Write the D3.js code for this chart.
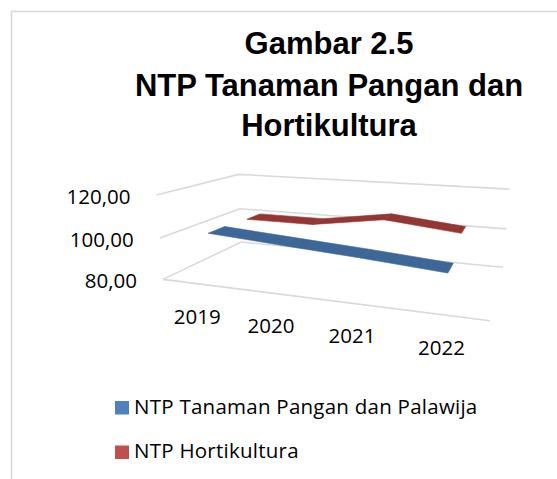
<!DOCTYPE html>
<html>
<head>
<meta charset="utf-8">
<script src="https://cdn.jsdelivr.net/npm/d3@7"></script>
<style>
  body { margin: 0; background: #fff; }
  svg { display: block; }
</style>
</head>
<body>
<div id="chart"></div>
<script>
// data
var years = ["2019", "2020", "2021", "2022"];
var seriesNames = ["NTP Tanaman Pangan dan Palawija", "NTP Hortikultura"];
var pangan = [101.3, 98.9, 96.6, 93.9];
var horti = [100.4, 100.5, 105.8, 102.1];
var yTicks = [80, 100, 120];

var width = 557, height = 479;

var svg = d3.select("#chart").append("svg")
    .attr("width", width)
    .attr("height", height);

// chart border (runs off the page right/bottom)
svg.append("rect")
    .attr("x", 11.5).attr("y", 11.5)
    .attr("width", 700).attr("height", 700)
    .attr("fill", "none")
    .attr("stroke", "#d9d9d9")
    .attr("stroke-width", 1.6);

// title
var titleLines = [
    { t: "Gambar 2.5", y: 54 },
    { t: "NTP Tanaman Pangan dan", y: 96 },
    { t: "Hortikultura", y: 136 }
];
svg.selectAll(".title").data(titleLines).join("text")
    .attr("class", "title")
    .attr("x", 329)
    .attr("y", function (d) { return d.y })
    .attr("text-anchor", "middle")
    .style("font-family", "'Liberation Sans', Arial, sans-serif")
    .style("font-weight", "bold")
    .style("font-size", "31px")
    .attr("fill", "#000")
    .text(function (d) { return d.t });

// scales in the unit box (x: categories, y: value, z: depth)
var x = d3.scalePoint().domain(years).range([0, 1]).padding(0.5);
var y = d3.scaleLinear().domain([80, 120]).range([0, 1]);
var z = d3.scaleBand().domain(seriesNames).range([0, 1])
    .paddingInner(0.6).paddingOuter(0.3);

// screen position of the box corners, used to fit the 3d view
var frame = [
    [0, 0, 0, 164, 279], [0, 0, 1, 240, 242.5], [1, 0, 1, 503.3, 267.3], [1, 0, 0, 490, 320.7],
    [0, 1, 0, 155, 195.5], [0, 1, 1, 240, 174.3], [1, 1, 1, 509.3, 189],
    [0, 0.5, 0, 160, 238], [0, 0.5, 1, 240, 208.3], [1, 0.5, 1, 506, 229]
];

// least squares fit of a 3x4 projection (p34 = 1)
function fitProjection(pts) {
    var A = [], b = [];
    pts.forEach(function (p) {
        var X = p[0], Y = p[1], Z = p[2], u = p[3], v = p[4];
        A.push([X, Y, Z, 1, 0, 0, 0, 0, -u * X, -u * Y, -u * Z]); b.push(u);
        A.push([0, 0, 0, 0, X, Y, Z, 1, -v * X, -v * Y, -v * Z]); b.push(v);
    });
    var n = 11, M = [];
    for (var i = 0; i < n; i++) {
        M.push([]);
        for (var j = 0; j <= n; j++) {
            var s = 0;
            for (var k = 0; k < A.length; k++) s += A[k][i] * (j < n ? A[k][j] : b[k]);
            M[i].push(s);
        }
    }
    for (var c = 0; c < n; c++) {
        var piv = c;
        for (var r = c + 1; r < n; r++) if (Math.abs(M[r][c]) > Math.abs(M[piv][c])) piv = r;
        var tmp = M[c]; M[c] = M[piv]; M[piv] = tmp;
        for (var r2 = 0; r2 < n; r2++) {
            if (r2 === c) continue;
            var f = M[r2][c] / M[c][c];
            for (var j2 = c; j2 <= n; j2++) M[r2][j2] -= f * M[c][j2];
        }
    }
    return M.map(function (row, i) { return row[n] / row[i] });
}
var P = fitProjection(frame);
function project(X, Y, Z) {
    var w = P[8] * X + P[9] * Y + P[10] * Z + 1;
    return [(P[0] * X + P[1] * Y + P[2] * Z + P[3]) / w,
            (P[4] * X + P[5] * Y + P[6] * Z + P[7]) / w];
}

// gridlines on left wall and back wall
var grid = svg.append("g");
yTicks.forEach(function (t) {
    var pts = [project(0, y(t), 0), project(0, y(t), 1), project(1, y(t), 1)];
    grid.append("path")
        .attr("d", d3.line()(pts))
        .attr("fill", "none")
        .attr("stroke", "#d9d9d9")
        .attr("stroke-width", 1.6);
});
// floor front edge
grid.append("path")
    .attr("d", d3.line()([project(0, 0, 0), project(1, 0, 0)]))
    .attr("stroke", "#d9d9d9")
    .attr("stroke-width", 1.6);

// y labels
var fmt = d3.formatLocale({ decimal: ",", thousands: ".", grouping: [3], currency: ["Rp", ""] }).format(".2f");
svg.selectAll(".ylab").data(yTicks).join("text")
    .attr("class", "ylab")
    .attr("x", function (d) { return project(0, y(d), 0)[0] - 26 })
    .attr("y", function (d) { return project(0, y(d), 0)[1] + 9 })
    .attr("text-anchor", "end")
    .style("font-family", "'Open Sans', sans-serif")
    .style("font-size", "20.5px")
    .attr("fill", "#000")
    .text(function (d) { return fmt(d) });

// category labels
svg.selectAll(".xlab").data(years).join("text")
    .attr("class", "xlab")
    .attr("x", function (d) { return project(x(d), 0, 0)[0] })
    .attr("y", function (d) { return project(x(d), 0, 0)[1] + 40 })
    .attr("text-anchor", "middle")
    .style("font-family", "'Open Sans', sans-serif")
    .style("font-size", "20.5px")
    .attr("fill", "#000")
    .text(function (d) { return d });

// ribbons, back series first
var series = [
    { name: seriesNames[1], values: horti, color: "#943634" },
    { name: seriesNames[0], values: pangan, color: "#3c6797" }
];
series.forEach(function (s) {
    var z0 = z(s.name), z1 = z0 + z.bandwidth();
    var g = svg.append("g");
    for (var i = 0; i < years.length - 1; i++) {
        var xa = x(years[i]), xb = x(years[i + 1]);
        var ya = y(s.values[i]), yb = y(s.values[i + 1]);
        var quad = [project(xa, ya, z0), project(xb, yb, z0), project(xb, yb, z1), project(xa, ya, z1)];
        g.append("path")
            .attr("d", d3.line()(quad) + "Z")
            .attr("fill", s.color)
            .attr("stroke", s.color)
            .attr("stroke-width", 0.6)
            .attr("stroke-linejoin", "round");
    }
});

// legend
var legend = [
    { name: seriesNames[0], color: "#4f81bd" },
    { name: seriesNames[1], color: "#c0504d" }
];
var lg = svg.selectAll(".leg").data(legend).join("g")
    .attr("class", "leg")
    .attr("transform", function (d, i) { return "translate(115," + (401 + i * 44.5) + ")" });
lg.append("rect")
    .attr("width", 14).attr("height", 13.5)
    .attr("fill", function (d) { return d.color });
lg.append("text")
    .attr("x", 19).attr("y", 12.5)
    .style("font-family", "'Open Sans', sans-serif")
    .style("font-size", "20.5px")
    .style("letter-spacing", "0.25px")
    .attr("fill", "#000")
    .text(function (d) { return d.name });
</script>
</body>
</html>
